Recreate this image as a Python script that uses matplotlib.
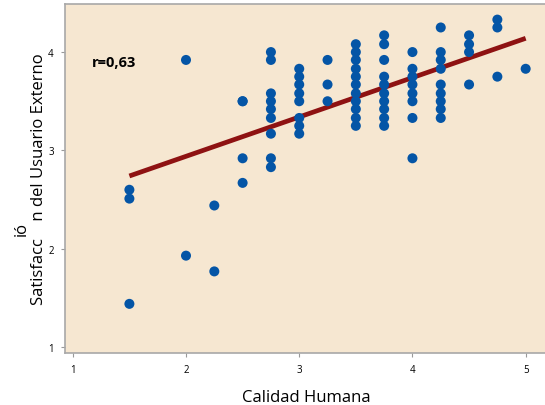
import matplotlib
matplotlib.use("Agg")
import matplotlib.pyplot as plt

# puntos (Calidad Humana, Satisfaccion)
calidad = [1.5, 1.5, 1.5,
           2.0, 2.0,
           2.25, 2.25,
           2.5, 2.5, 2.5, 2.5,
           2.75, 2.75, 2.75, 2.75, 2.75, 2.75, 2.75, 2.75, 2.75,
           3.0, 3.0, 3.0, 3.0, 3.0, 3.0, 3.0, 3.0,
           3.25, 3.25, 3.25,
           3.5, 3.5, 3.5, 3.5, 3.5, 3.5, 3.5, 3.5, 3.5, 3.5, 3.5,
           3.75, 3.75, 3.75, 3.75, 3.75, 3.75, 3.75, 3.75, 3.75, 3.75,
           4.0, 4.0, 4.0, 4.0, 4.0, 4.0, 4.0, 4.0,
           4.25, 4.25, 4.25, 4.25, 4.25, 4.25, 4.25, 4.25, 4.25,
           4.5, 4.5, 4.5, 4.5,
           4.75, 4.75, 4.75,
           5.0]
satisf = [2.6, 2.51, 1.44,
          3.92, 1.93,
          2.44, 1.77,
          3.5, 2.92, 2.67, 3.5,
          4.0, 3.92, 3.58, 3.5, 3.42, 3.33, 3.17, 2.92, 2.83,
          3.83, 3.75, 3.67, 3.58, 3.5, 3.33, 3.25, 3.17,
          3.92, 3.67, 3.5,
          4.08, 4.0, 3.92, 3.83, 3.75, 3.67, 3.58, 3.5, 3.42, 3.33, 3.25,
          4.17, 4.08, 3.92, 3.75, 3.67, 3.58, 3.5, 3.42, 3.33, 3.25,
          4.0, 3.83, 3.75, 3.67, 3.58, 3.5, 3.33, 2.92,
          4.25, 4.0, 3.92, 3.83, 3.67, 3.58, 3.5, 3.42, 3.33,
          4.17, 4.08, 4.0, 3.67,
          4.33, 4.25, 3.75,
          3.83]

# recta de ajuste (extremos leidos)
fit_x = [1.5, 5.0]
fit_y = [2.74, 4.14]

x_ticks = [1, 2, 3, 4, 5]
y_ticks = [1, 2, 3, 4]

plt.rcParams['font.family'] = ['Open Sans', 'DejaVu Sans']

fig = plt.figure(figsize=(5.45, 4.06), dpi=100)
ax = fig.add_axes([0.119, 0.128, 0.885, 0.86])
ax.set_facecolor('#F6E7D1')

ax.plot(fit_x, fit_y, color='#8E1212', linewidth=3.4, solid_capstyle='butt', zorder=2)
ax.scatter(calidad, satisf, s=52, color='#0455A6', edgecolors='none', zorder=3)

ax.text(1.17, 3.9, 'r=0,63', fontsize=10.5, fontweight='bold', va='center', ha='left')

ax.set_xlim(0.93, 5.19)
ax.set_ylim(0.94, 4.49)
ax.set_xticks(x_ticks)
ax.set_yticks(y_ticks)
ax.tick_params(labelsize=7, length=3, color='#999999', pad=5)
for s in ['top', 'left', 'bottom']:
    ax.spines[s].set_color('#A8A8A8')
    ax.spines[s].set_linewidth(1.2)
ax.spines['right'].set_visible(False)

ax.set_xlabel('Calidad Humana', fontsize=12, labelpad=10)
ax.set_ylabel('Satisfacc    n del Usuario Externo', fontsize=12, labelpad=1)
fig.text(22 / 545, 1 - 229 / 406, 'ió', fontsize=12, rotation=90, ha='center', va='center')

fig.savefig('out.png', dpi=100)
